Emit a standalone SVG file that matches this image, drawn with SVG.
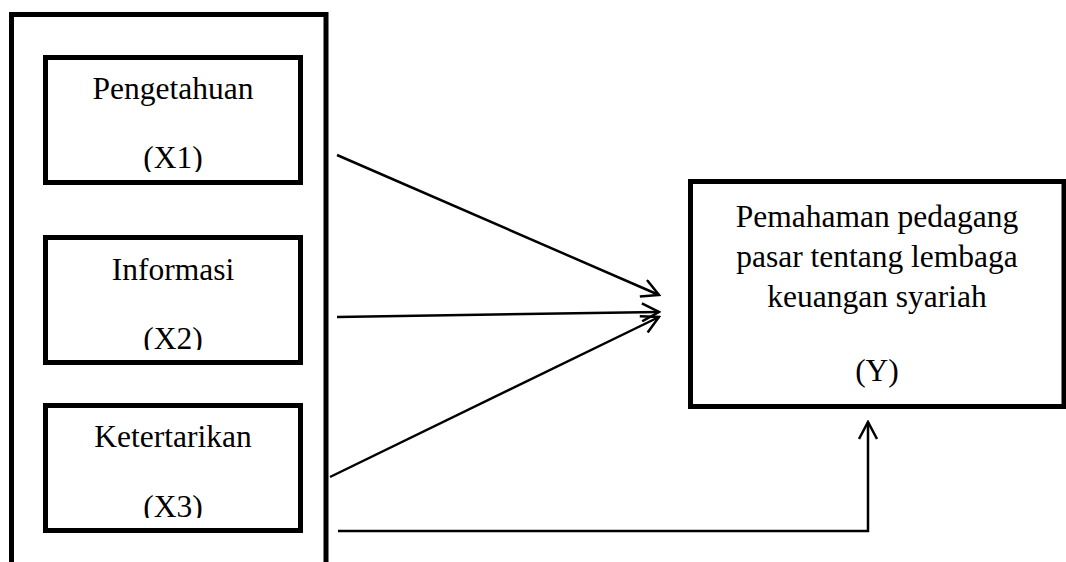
<svg xmlns="http://www.w3.org/2000/svg" width="1066" height="562" viewBox="0 0 1066 562">
<style>
.box{fill:none;stroke:#000;stroke-width:5}
.t{font-family:"Liberation Serif","Times New Roman",serif;font-size:31.5px;fill:#000;text-anchor:middle}
.c{fill:none;stroke:#000;stroke-width:2.5}
</style>
<defs>
<marker id="arr" viewBox="0 0 20 20" refX="18" refY="10" markerWidth="20" markerHeight="20" markerUnits="userSpaceOnUse" orient="auto">
<path d="M1,1 L18,10 L1,19" fill="none" stroke="#000" stroke-width="2.5"/>
</marker>
<clipPath id="c1"><rect x="48" y="60" width="250" height="112"/></clipPath>
<clipPath id="c2"><rect x="48" y="240" width="250" height="110"/></clipPath>
<clipPath id="c3"><rect x="48" y="408" width="250" height="110"/></clipPath>
</defs>
<rect width="1066" height="562" fill="#fff"/>
<g id="outer"><rect class="box" x="11.5" y="14.5" width="314.5" height="580"/></g>
<g id="x1">
<rect class="box" x="45.5" y="57.5" width="255" height="125"/>
<g clip-path="url(#c1)">
<text class="t" x="173" y="99">Pengetahuan</text>
<text class="t" x="173" y="168">(X1)</text>
</g>
</g>
<g id="x2">
<rect class="box" x="45.5" y="237.5" width="255" height="125"/>
<g clip-path="url(#c2)">
<text class="t" x="173" y="280">Informasi</text>
<text class="t" x="173" y="349">(X2)</text>
</g>
</g>
<g id="x3">
<rect class="box" x="45.5" y="405.5" width="255" height="125"/>
<g clip-path="url(#c3)">
<text class="t" x="173" y="447">Ketertarikan</text>
<text class="t" x="173" y="517">(X3)</text>
</g>
</g>
<g id="y">
<rect class="box" x="690.5" y="181.5" width="373.5" height="225"/>
<text class="t" x="877" y="227">Pemahaman pedagang</text>
<text class="t" x="877" y="267">pasar tentang lembaga</text>
<text class="t" x="877" y="307">keuangan syariah</text>
<text class="t" x="877" y="381">(Y)</text>
</g>
<g id="connectors">
<path class="c" d="M337,155 L659,295" marker-end="url(#arr)"/>
<path class="c" d="M337,317 L659,312" marker-end="url(#arr)"/>
<path class="c" d="M330,477 L659,317" marker-end="url(#arr)"/>
<path class="c" d="M338,531 L868,531 L868,422" marker-end="url(#arr)"/>
</g>
</svg>
